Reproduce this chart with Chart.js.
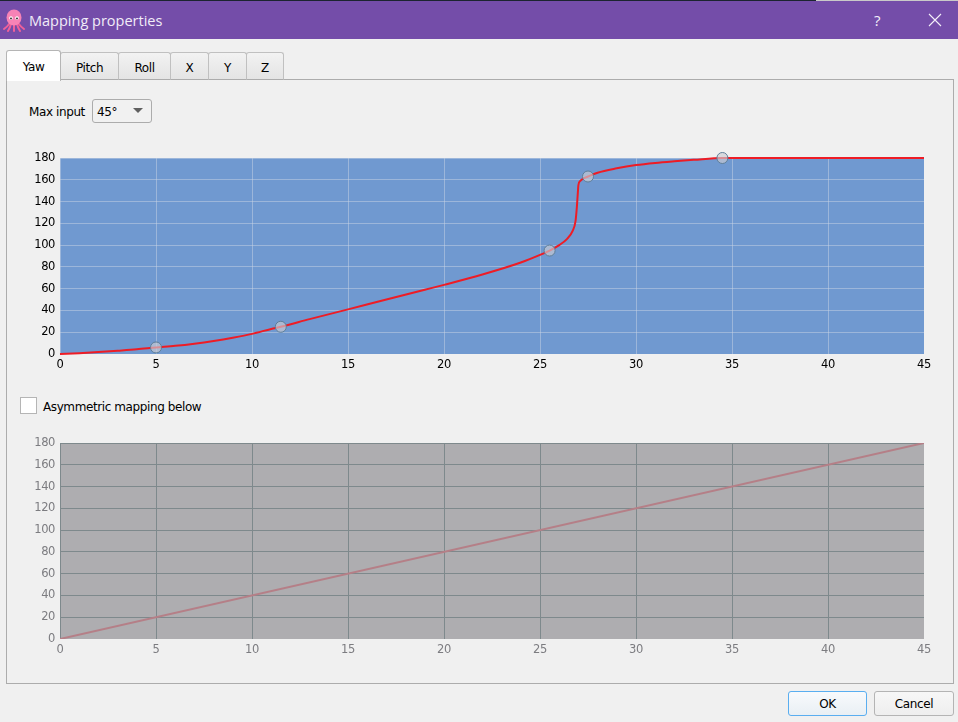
<!DOCTYPE html>
<html>
<head>
<meta charset="utf-8">
<title>Mapping properties</title>
<script src="https://cdn.jsdelivr.net/npm/chart.js@4"></script>
<style>
html, body { margin: 0; padding: 0; }
body { width: 958px; height: 722px; background: #f0f0f0; position: relative; overflow: hidden; font: 12px "DejaVu Sans", sans-serif; letter-spacing: -0.4px; color: #000; }
.abs { position: absolute; box-sizing: border-box; }
#topedge { left: 0; top: 0; width: 958px; height: 1px; background: #c9c9c9; }
#topedge2 { left: 0; top: 0; width: 816px; height: 1px; background: #1c2430; }
#titlebar { left: 0; top: 1px; width: 958px; height: 38px; background: #744da9; }
#title { left: 29px; top: 11px; color: #f1ecf8; font: 14.5px "Open Sans", sans-serif; letter-spacing: 0; white-space: nowrap; }
#help { left: 874px; top: 10px; color: #f4f0fa; font: 15px "Open Sans", sans-serif; }
#panel { left: 6px; top: 79px; width: 948px; height: 605px; border: 1px solid #acacac; }
.tab { top: 52px; height: 28px; border: 1px solid #c0c0c0; border-bottom: 1px solid #acacac; border-radius: 3px 3px 0 0; background: linear-gradient(#f2f2f2, #e4e4e4); text-align: center; line-height: 30px; }
#tabYaw { left: 6px; top: 50px; width: 55px; height: 31px; background: #fff; border-bottom: none; border-color: #b5b5b5; line-height: 33px; z-index: 2; }
#combo { left: 92px; top: 99px; width: 60px; height: 24px; border: 1px solid #acacac; border-radius: 3px; background: #f1f1f1; padding-left: 4px; line-height: 24px; }
#arrow { left: 133px; top: 108px; width: 0; height: 0; border-left: 5px solid transparent; border-right: 5px solid transparent; border-top: 5px solid #606060; }
#check { left: 20px; top: 397px; width: 17px; height: 17px; background: #fff; border: 1px solid #b5b5b5; }
.btn { top: 691px; height: 25px; border: 1px solid #b4b4b4; border-radius: 3px; background: linear-gradient(#f7f7f7, #eeeeee); text-align: center; line-height: 25px; }
#ok { left: 788px; width: 79px; border-color: #5aaef0; background: linear-gradient(#f8fafc, #e9eff4); }
#cancel { left: 874px; width: 80px; }
canvas { position: absolute; }
</style>
</head>
<body>
<div class="abs" id="topedge"></div>
<div class="abs" id="topedge2"></div>
<div class="abs" id="titlebar"></div>
<svg class="abs" style="left:3px;top:8px" width="22" height="24" viewBox="0 0 22 24">
  <g fill="none" stroke="#f0609a" stroke-width="2" stroke-linecap="round">
    <path d="M7 15 Q4 19 1 21"/><path d="M8 16 Q7 20 5 23"/><path d="M11 17 V23"/><path d="M14 16 Q15 20 17 23"/><path d="M15 15 Q18 19 21 21"/>
  </g>
  <ellipse cx="11" cy="9.5" rx="7.5" ry="8" fill="#f783b6"/>
  <circle cx="8" cy="10" r="1.8" fill="#fff"/><circle cx="14" cy="10" r="1.8" fill="#fff"/>
  <circle cx="8" cy="10.4" r="0.9" fill="#222"/><circle cx="14" cy="10.4" r="0.9" fill="#222"/>
</svg>
<div class="abs" id="title">Mapping properties</div>
<div class="abs" id="help">?</div>
<svg class="abs" style="left:928px;top:13px" width="14" height="14"><path d="M1 1 L13 13 M13 1 L1 13" stroke="#f4f0fa" stroke-width="1.1"/></svg>

<div class="abs" id="panel"></div>
<div class="abs tab" id="tabYaw">Yaw</div>
<div class="abs tab" style="left:60px;width:59px">Pitch</div>
<div class="abs tab" style="left:118px;width:53px">Roll</div>
<div class="abs tab" style="left:170px;width:39px">X</div>
<div class="abs tab" style="left:208px;width:39px">Y</div>
<div class="abs tab" style="left:246px;width:38px">Z</div>

<div class="abs" style="left:29px;top:105px">Max input</div>
<div class="abs" id="combo">45°</div>
<div class="abs" id="arrow"></div>
<div class="abs" id="check"></div>
<div class="abs" style="left:43px;top:400px">Asymmetric mapping below</div>
<div class="abs btn" id="ok">OK</div>
<div class="abs btn" id="cancel">Cancel</div>

<canvas id="yawChart" style="left:20px;top:142px;width:938px;height:238px"></canvas>
<canvas id="asymChart" style="left:20px;top:427px;width:938px;height:238px"></canvas>

<script>
// axis ticks
const xTicks = [0, 5, 10, 15, 20, 25, 30, 35, 40, 45];
const yTicks = [0, 20, 40, 60, 80, 100, 120, 140, 160, 180];

// yaw curve
const curveX = [0, 1, 2, 3, 4, 5, 6, 7, 8, 9, 10, 11, 11.5, 13, 15, 17, 19, 20, 22, 24, 25, 25.5, 26, 26.4, 26.7, 26.85, 26.92, 26.97, 27, 27.1, 27.3, 27.5, 28, 29, 30, 31, 32, 33, 34.5, 40, 45];
const curveY = [0, 0.8, 1.8, 3, 4.3, 6, 7.5, 9.5, 12, 15, 18.5, 23, 25, 32, 41, 50, 59, 63.5, 73, 84, 91, 95, 100, 105.5, 113, 122, 135, 148, 155, 159, 161.5, 163, 166.5, 170.5, 173.5, 175.5, 177, 178.3, 180, 180, 180];

// draggable control points
const handleX = [5, 11.5, 25.5, 27.5, 34.5];
const handleY = [6, 25, 95, 163, 180];

// lower (disabled) mapping
const flatX = [0, 45];
const flatY = [0, 180];

function pairs(xs, ys) {
    return xs.map((x, i) => ({ x: x, y: ys[i] }));
}

function axes(tickColor, gridColor) {
    const font = { family: 'DejaVu Sans', size: 11.5 };
    return {
        x: {
            type: 'linear', min: 0, max: 45,
            afterBuildTicks: s => { s.ticks = xTicks.map(v => ({ value: v })); },
            afterFit: s => { s.height = 26; },
            ticks: { color: tickColor, font: font, maxRotation: 0, autoSkip: false, padding: 4 },
            // no line on the right edge of the plot
            grid: { color: c => (c.tick.value === 45 ? 'transparent' : gridColor), drawTicks: false },
            border: { display: false }
        },
        y: {
            type: 'linear', min: 0, max: 180,
            afterBuildTicks: s => { s.ticks = yTicks.map(v => ({ value: v })); },
            afterFit: s => { s.width = 40; },
            ticks: { color: tickColor, font: font, autoSkip: false, padding: 5 },
            // nor on the bottom edge
            grid: { color: c => (c.tick.value === 0 ? 'transparent' : gridColor), drawTicks: false },
            border: { display: false }
        }
    };
}

// paints the plot rectangle behind the grid
function plotBackground(color) {
    return {
        id: 'plotBackground',
        beforeDraw(chart) {
            const a = chart.chartArea;
            chart.ctx.fillStyle = color;
            chart.ctx.fillRect(a.left, a.top, a.width, a.height);
        }
    };
}

function baseOptions(tickColor, gridColor) {
    return {
        responsive: false,
        animation: false,
        events: [],
        layout: { padding: { top: 16, right: 34, left: 0, bottom: 0 } },
        plugins: { legend: { display: false }, tooltip: { enabled: false } },
        scales: axes(tickColor, gridColor)
    };
}

function setSize(canvas) {
    canvas.width = 938;
    canvas.height = 238;
}

const yawCanvas = document.getElementById('yawChart');
setSize(yawCanvas);
const yawChart = new Chart(yawCanvas.getContext('2d'), {
    type: 'scatter',
    data: {
        datasets: [{
            data: pairs(handleX, handleY),
            showLine: false,
            pointRadius: 5.5,
            pointBackgroundColor: 'rgba(205,205,210,0.65)',
            pointBorderColor: '#5f7f99',
            pointBorderWidth: 1,
            clip: false,
            order: 1
        }, {
            data: pairs(curveX, curveY),
            showLine: true,
            borderColor: '#ee1c25',
            borderWidth: 2,
            cubicInterpolationMode: 'monotone',
            pointRadius: 0,
            clip: false,
            order: 2
        }]
    },
    options: baseOptions('#000000', 'rgba(200,212,228,0.5)'),
    plugins: [plotBackground('#7099d0')]
});

const asymCanvas = document.getElementById('asymChart');
setSize(asymCanvas);
const asymChart = new Chart(asymCanvas.getContext('2d'), {
    type: 'scatter',
    data: {
        datasets: [{
            data: pairs(flatX, flatY),
            showLine: true,
            borderColor: '#b57f87',
            borderWidth: 2,
            pointRadius: 0
        }]
    },
    options: baseOptions('#7c7c80', '#7e898c'),
    plugins: [plotBackground('#aeadb0')]
});
</script>
</body>
</html>
